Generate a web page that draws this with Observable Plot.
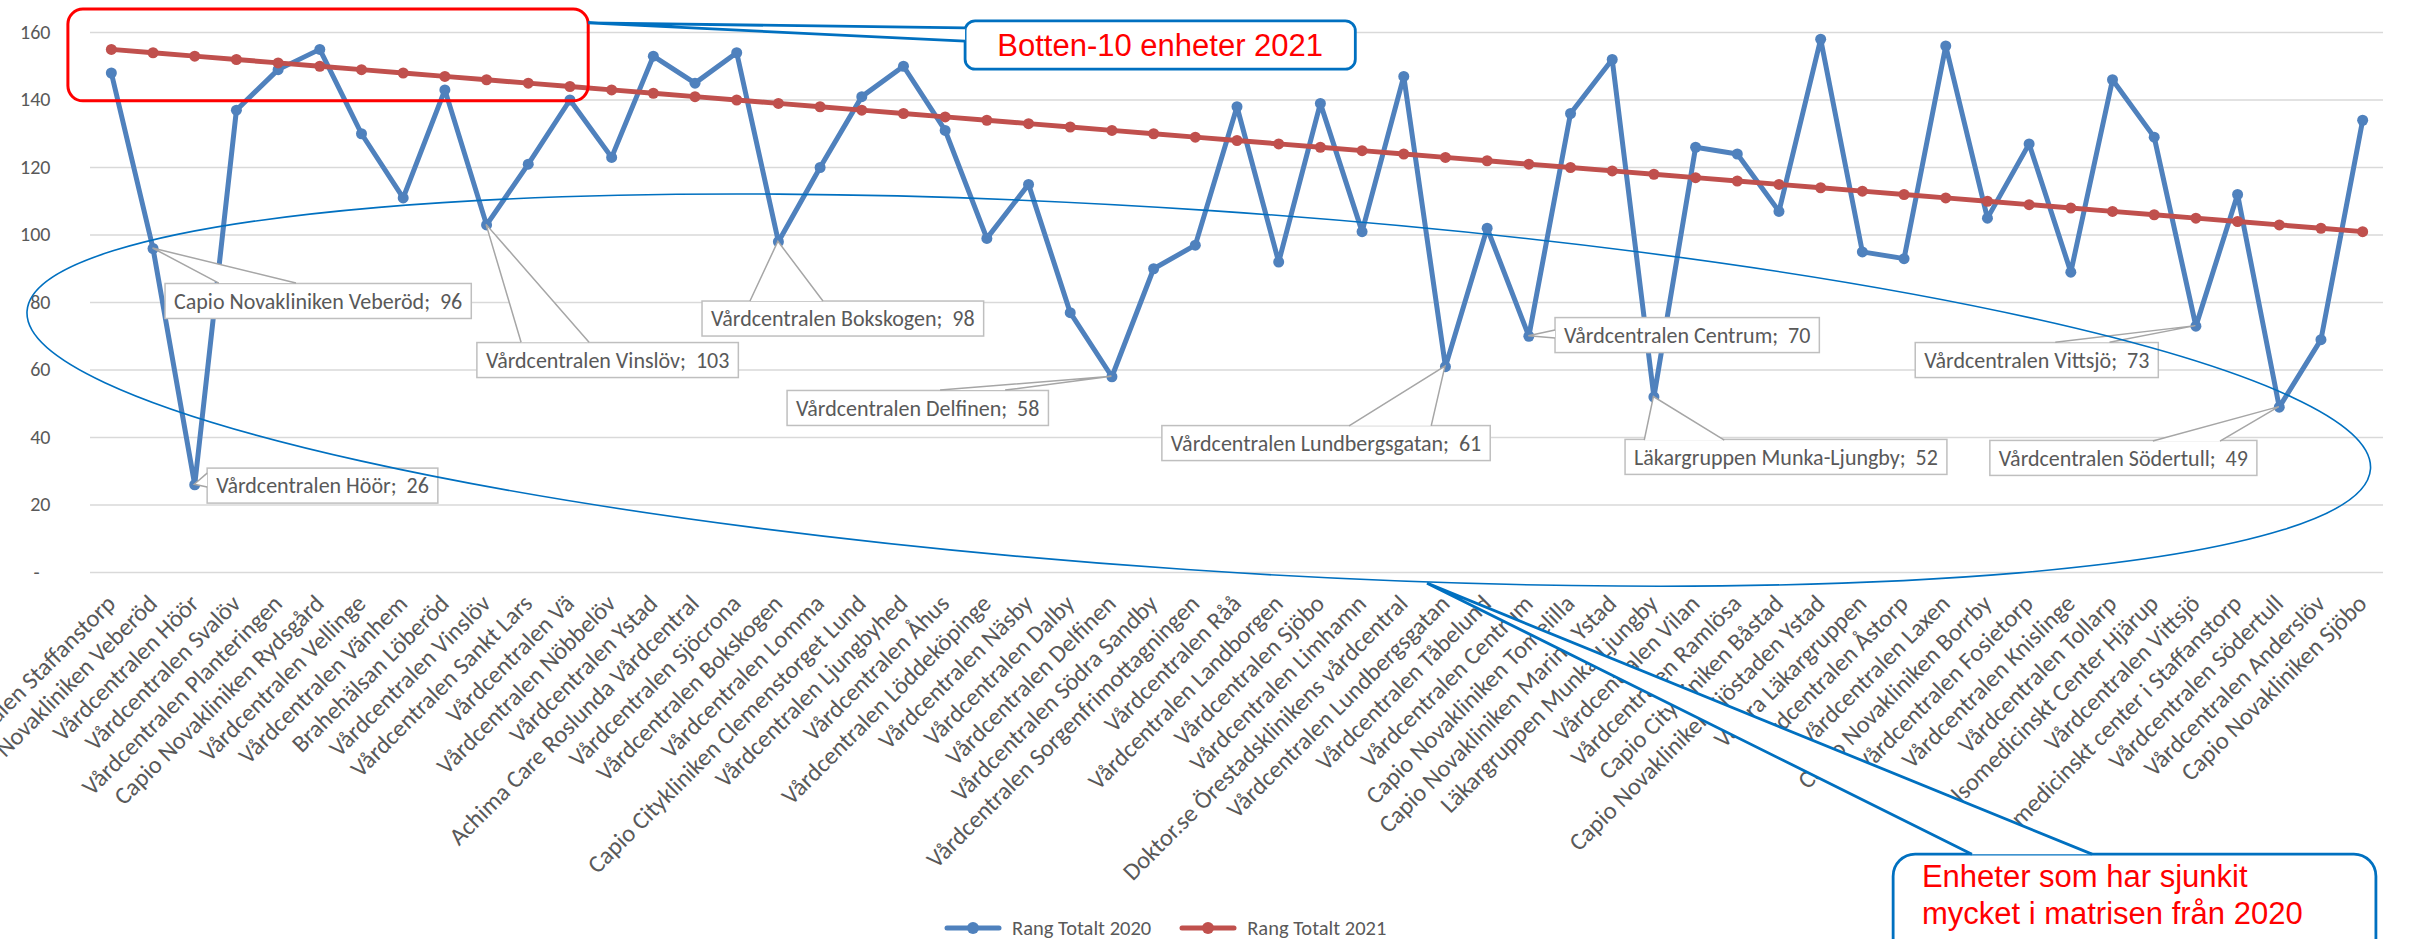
<!DOCTYPE html>
<html>
<head>
<meta charset="utf-8">
<script src="https://cdn.jsdelivr.net/npm/d3@7"></script>
<script src="https://cdn.jsdelivr.net/npm/@observablehq/plot@0.6"></script>
<style>
  html, body { margin: 0; padding: 0; background: #fff; overflow: hidden; }
  #chart svg { display: block; max-width: none; }
  #legend { display: flex; align-items: center; height: 32px; padding-left: 944px;
            font-family: Calibri, Carlito, Lato, sans-serif; font-size: 20.5px; color: #595959; }
  #legend .item { display: flex; align-items: center; margin-right: 28px; }
  #legend .item span { margin-left: 10px; }
</style>
</head>
<body>
<div id="chart"></div>
<div id="legend"></div>
<script>
// ---------- data ----------
const units = [
  "Vårdcentralen Staffanstorp",
  "Capio Novakliniken Veberöd",
  "Vårdcentralen Höör",
  "Vårdcentralen Svalöv",
  "Vårdcentralen Planteringen",
  "Capio Novakliniken Rydsgård",
  "Vårdcentralen Vellinge",
  "Vårdcentralen Vänhem",
  "Brahehälsan Löberöd",
  "Vårdcentralen Vinslöv",
  "Vårdcentralen Sankt Lars",
  "Vårdcentralen Vä",
  "Vårdcentralen Nöbbelöv",
  "Vårdcentralen Ystad",
  "Achima Care Roslunda Vårdcentral",
  "Vårdcentralen Sjöcrona",
  "Vårdcentralen Bokskogen",
  "Vårdcentralen Lomma",
  "Capio Citykliniken Clemenstorget Lund",
  "Vårdcentralen Ljungbyhed",
  "Vårdcentralen Åhus",
  "Vårdcentralen Löddeköpinge",
  "Vårdcentralen Näsby",
  "Vårdcentralen Dalby",
  "Vårdcentralen Delfinen",
  "Vårdcentralen Södra Sandby",
  "Vårdcentralen Sorgenfrimottagningen",
  "Vårdcentralen Råå",
  "Vårdcentralen Landborgen",
  "Vårdcentralen Sjöbo",
  "Vårdcentralen Limhamn",
  "Doktor.se Örestadsklinikens vårdcentral",
  "Vårdcentralen Lundbergsgatan",
  "Vårdcentralen Tåbelund",
  "Vårdcentralen Centrum",
  "Capio Novakliniken Tomelilla",
  "Capio Novakliniken Marina Ystad",
  "Läkargruppen Munka-Ljungby",
  "Vårdcentralen Vilan",
  "Vårdcentralen Ramlösa",
  "Capio Citykliniken Båstad",
  "Capio Novakliniken Sjöstaden Ystad",
  "Västra Läkargruppen",
  "Vårdcentralen Åstorp",
  "Vårdcentralen Laxen",
  "Capio Novakliniken Borrby",
  "Vårdcentralen Fosietorp",
  "Vårdcentralen Knislinge",
  "Vårdcentralen Tollarp",
  "Hälsomedicinskt Center Hjärup",
  "Vårdcentralen Vittsjö",
  "Hälsomedicinskt center i Staffanstorp",
  "Vårdcentralen Södertull",
  "Vårdcentralen Anderslöv",
  "Capio Novakliniken Sjöbo"
];

const rank2020 = [
  148, 96, 26, 137, 149, 155, 130, 111, 143, 103,
  121, 140, 123, 153, 145, 154, 98, 120, 141, 150,
  131, 99, 115, 77, 58, 90, 97, 138, 92, 139,
  101, 147, 61, 102, 70, 136, 152, 52, 126, 124,
  107, 158, 95, 93, 156, 105, 127, 89, 146, 129,
  73, 112, 49, 69, 134
];

const rank2021 = [
  155, 154, 153, 152, 151, 150, 149, 148, 147, 146,
  145, 144, 143, 142, 141, 140, 139, 138, 137, 136,
  135, 134, 133, 132, 131, 130, 129, 128, 127, 126,
  125, 124, 123, 122, 121, 120, 119, 118, 117, 116,
  115, 114, 113, 112, 111, 110, 109, 108, 107, 106,
  105, 104, 103, 102, 101
];

const seriesNames = ["Rang Totalt 2020", "Rang Totalt 2021"];
const yTicks = [0, 20, 40, 60, 80, 100, 120, 140, 160];

// units (by position) that carry a data callout in the 2020 series
const labelledUnits = [2, 3, 10, 17, 25, 33, 35, 38, 51, 53];

const noteTop = "Botten-10 enheter 2021";
const noteBottom = ["Enheter som har sjunkit", "mycket i matrisen från 2020"];

// ---------- layout / style (annotation placement in data coordinates) ----------
const BLUE = "#4F81BD", RED = "#C0504D", TXT = "#595959", GRID = "#d9d9d9";
const FONT = "Calibri, Carlito, Lato, sans-serif";
const NOTE_FONT = "Arial, 'Liberation Sans', sans-serif";

// box: [left x, centre y]; wedge base points
const calloutLayout = [
  {box: [2.30, 80.3],  wedge: [[3.59, 85.6], [5.44, 85.6]]},
  {box: [3.31, 25.6],  wedge: [[3.31, 29.3], [3.31, 25.2]]},
  {box: [9.78, 62.8],  wedge: [[10.84, 68.1], [12.47, 68.1]]},
  {box: [15.18, 75.1], wedge: [[16.33, 80.3], [18.08, 80.3]]},
  {box: [17.22, 48.6], wedge: [[20.89, 53.9], [22.45, 53.9]]},
  {box: [26.21, 38.2], wedge: [[30.70, 43.3], [32.67, 43.3]]},
  {box: [35.64, 70.2], wedge: [[35.64, 71.7], [35.64, 69.3]]},
  {box: [37.32, 34.1], wedge: [[37.78, 39.1], [39.70, 39.1]]},
  {box: [44.28, 62.8], wedge: [[47.64, 68.1], [48.94, 68.1]]},
  {box: [46.07, 33.8], wedge: [[49.98, 38.8], [51.59, 38.8]]}
];

const redFrame = {x1: -0.03, x2: 12.45, y1: 139.6, y2: 166.8};
const topNote = {x1: 21.49, x2: 30.85, y1: 149.0, y2: 163.3, apex: [12.45, 162.7], base: [[21.49, 161.2], [21.49, 157.3]]};
const ellipseAxis = {p1: [-1.01, 77.3], p2: [55.2, 30.5], minor: 53.3};
const bottomNote = {x1: 43.75, x2: 55.33, y1: -125, y2: -83.6, apex: [32.57, -3.3],
                    base: [[45.64, -83.6], [48.52, -83.6]], textX: 44.44, lines: [-93.3, -104.3]};

// ---------- chart ----------
const rows = units.map((u, k) => ({i: k + 1, unit: u, v2020: rank2020[k], v2021: rank2021[k]}));

const chart = Plot.plot({
  width: 2419,
  height: 912,
  marginTop: 32,
  marginBottom: 340,
  marginLeft: 90,
  marginRight: 36,
  style: {fontFamily: FONT, fontSize: "20px", color: TXT, background: "white", overflow: "visible"},
  x: {domain: [0.5, units.length + 0.5], axis: null},
  y: {domain: [0, 160], axis: null},
  marks: [
    Plot.gridY(yTicks, {stroke: GRID, strokeOpacity: 1, strokeWidth: 1.5}),
    Plot.axisY(yTicks, {label: null, tickSize: 0, tickPadding: 40, fontSize: 20, fill: TXT,
      tickFormat: d => d === 0 ? "-\u2007" : String(d)}),
    Plot.axisX(rows.map(d => d.i), {label: null, tickSize: 0, tickPadding: 27, tickRotate: -45, fontSize: 24.5, fill: TXT,
      tickFormat: i => units[i - 1]}),
    Plot.lineY(rows, {x: "i", y: "v2020", stroke: BLUE, strokeWidth: 5}),
    Plot.dot(rows, {x: "i", y: "v2020", r: 5.5, fill: BLUE}),
    Plot.lineY(rows, {x: "i", y: "v2021", stroke: RED, strokeWidth: 5}),
    Plot.dot(rows, {x: "i", y: "v2021", r: 5.5, fill: RED})
  ]
});
document.getElementById("chart").append(chart);

// ---------- annotations through the chart's own scales ----------
const X = v => chart.scale("x").apply(v);
const Y = v => chart.scale("y").apply(v);
const svg = d3.select(chart);
const ann = svg.append("g").attr("class", "annotations").attr("text-anchor", "start");

// data callouts
labelledUnits.forEach((i, k) => {
  const lay = calloutLayout[k];
  const px = X(i), py = Y(rank2020[i - 1]);
  const g = ann.append("g");
  const bx = X(lay.box[0]), by = Y(lay.box[1]);
  const rect = g.append("rect");
  const t = g.append("text")
    .attr("x", bx + 9).attr("y", by)
    .attr("dy", "0.35em").attr("text-anchor", "start")
    .attr("font-family", FONT).attr("font-size", 22).attr("fill", TXT)
    .text(`${units[i - 1]};\u00a0\u00a0${rank2020[i - 1]}`);
  const w = t.node().getComputedTextLength();
  rect.attr("x", bx).attr("y", by - 17.5).attr("width", w + 18).attr("height", 35)
    .attr("fill", "white").attr("stroke", "#bfbfbf").attr("stroke-width", 1.5);
  const b1 = [X(lay.wedge[0][0]), Y(lay.wedge[0][1])];
  const b2 = [X(lay.wedge[1][0]), Y(lay.wedge[1][1])];
  g.insert("path", "text").attr("d", `M${b1}L${px},${py}L${b2}Z`).attr("fill", "white");
  g.insert("path", "text").attr("d", `M${b1}L${px},${py}L${b2}`).attr("fill", "none")
    .attr("stroke", "#a6a6a6").attr("stroke-width", 1.5);
});

// ellipse
{
  const a1 = [X(ellipseAxis.p1[0]), Y(ellipseAxis.p1[1])];
  const a2 = [X(ellipseAxis.p2[0]), Y(ellipseAxis.p2[1])];
  const cx = (a1[0] + a2[0]) / 2, cy = (a1[1] + a2[1]) / 2;
  const ra = Math.hypot(a2[0] - a1[0], a2[1] - a1[1]) / 2;
  const rb = Y(0) - Y(ellipseAxis.minor);
  const ang = Math.atan2(a2[1] - a1[1], a2[0] - a1[0]) * 180 / Math.PI;
  ann.append("ellipse").attr("cx", cx).attr("cy", cy).attr("rx", ra).attr("ry", rb)
    .attr("transform", `rotate(${ang},${cx},${cy})`)
    .attr("fill", "none").attr("stroke", "#0070C0").attr("stroke-width", 1.6);
}

// red frame round the bottom group
ann.append("rect")
  .attr("x", X(redFrame.x1)).attr("y", Y(redFrame.y2))
  .attr("width", X(redFrame.x2) - X(redFrame.x1)).attr("height", Y(redFrame.y1) - Y(redFrame.y2))
  .attr("rx", 15).attr("fill", "none").attr("stroke", "#FF0000").attr("stroke-width", 3);

// callout shapes (box + pointer)
function noteShape(n, rx) {
  const g = ann.append("g");
  const x1 = X(n.x1), x2 = X(n.x2), yT = Y(n.y2), yB = Y(n.y1);
  g.append("rect").attr("x", x1).attr("y", yT).attr("width", x2 - x1).attr("height", yB - yT)
    .attr("rx", rx).attr("fill", "white").attr("stroke", "#0070C0").attr("stroke-width", 2.8);
  const ap = [X(n.apex[0]), Y(n.apex[1])];
  const b1 = [X(n.base[0][0]), Y(n.base[0][1])];
  const b2 = [X(n.base[1][0]), Y(n.base[1][1])];
  g.append("path").attr("d", `M${b1}L${ap}L${b2}Z`).attr("fill", "white");
  g.append("path").attr("d", `M${b1}L${ap}L${b2}`).attr("fill", "none")
    .attr("stroke", "#0070C0").attr("stroke-width", 2.8).attr("stroke-linejoin", "miter");
  return g;
}
{
  const g = noteShape(topNote, 10);
  g.append("text")
    .attr("x", (X(topNote.x1) + X(topNote.x2)) / 2)
    .attr("y", (Y(topNote.y1) + Y(topNote.y2)) / 2)
    .attr("dy", "0.36em").attr("text-anchor", "middle")
    .attr("font-family", NOTE_FONT).attr("font-size", 31).attr("fill", "#FF0000")
    .text(noteTop);
}
{
  const g = noteShape(bottomNote, 22);
  noteBottom.forEach((line, k) => {
    g.append("text").attr("x", X(bottomNote.textX)).attr("y", Y(bottomNote.lines[k]))
      .attr("text-anchor", "start")
      .attr("font-family", NOTE_FONT).attr("font-size", 31).attr("fill", "#FF0000")
      .text(line);
  });
}

// ---------- legend ----------
const legend = d3.select("#legend");
[[seriesNames[0], BLUE], [seriesNames[1], RED]].forEach(([name, color]) => {
  const item = legend.append("div").attr("class", "item");
  const s = item.append("svg").attr("width", 58).attr("height", 16);
  s.append("line").attr("x1", 3).attr("x2", 55).attr("y1", 8).attr("y2", 8)
    .attr("stroke", color).attr("stroke-width", 5).attr("stroke-linecap", "round");
  s.append("circle").attr("cx", 29).attr("cy", 8).attr("r", 6).attr("fill", color);
  item.append("span").text(name);
});
</script>
</body>
</html>
